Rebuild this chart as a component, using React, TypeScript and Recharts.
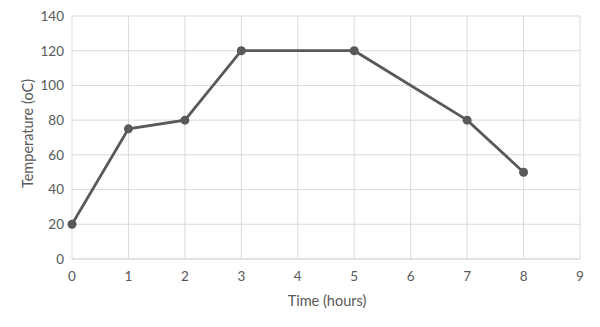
import React from "react";
import { CartesianGrid, Line, LineChart, XAxis, YAxis } from "recharts";

const hours = [0, 1, 2, 3, 5, 7, 8];
const temperature = [20, 75, 80, 120, 120, 80, 50];
const xTicks = [0, 1, 2, 3, 4, 5, 6, 7, 8, 9];
const yTicks = [0, 20, 40, 60, 80, 100, 120, 140];

const data = hours.map((h, i) => ({ hours: h, temp: temperature[i] }));

const FONT = "Lato, 'Open Sans', sans-serif";
const TEXT = "#595959";
const GRID = "#d9d9d9";
const AXIS = { fill: TEXT, fontSize: 13.5, fontFamily: FONT };

function YTitle({ viewBox }: any) {
  const cx = 27;
  const cy = viewBox.y + viewBox.height / 2 - 4;
  return (
    <text
      x={cx}
      y={cy}
      transform={`rotate(-90 ${cx} ${cy})`}
      textAnchor="middle"
      dominantBaseline="central"
      fill={TEXT}
      fontSize={14.5}
      fontFamily={FONT}
    >
      Temperature (oC)
    </text>
  );
}

function XTitle({ viewBox }: any) {
  const cx = viewBox.x + viewBox.width / 2 + 1;
  return (
    <text
      x={cx}
      y={300}
      textAnchor="middle"
      dominantBaseline="central"
      fill={TEXT}
      fontSize={14.5}
      fontFamily={FONT}
    >
      Time (hours)
    </text>
  );
}

export default function App() {
  return (
    <div style={{ width: 600, height: 327, background: "#fff" }}>
      <style>{`body{margin:0}`}</style>
      <LineChart width={600} height={327} data={data} margin={{ top: 16, right: 20, bottom: 20, left: 0 }}>
        <CartesianGrid stroke={GRID} strokeWidth={1} />
        <XAxis
          type="number"
          dataKey="hours"
          domain={[0, 9]}
          ticks={xTicks}
          tick={AXIS}
          tickLine={false}
          axisLine={{ stroke: GRID }}
          tickMargin={6}
          height={48}
          label={<XTitle />}
        />
        <YAxis
          type="number"
          domain={[0, 140]}
          ticks={yTicks}
          tick={AXIS}
          tickLine={false}
          axisLine={false}
          width={72}
          tickMargin={2}
          label={<YTitle />}
        />
        <Line
          type="linear"
          dataKey="temp"
          stroke="#595959"
          strokeWidth={2.75}
          dot={{ r: 4.5, fill: "#595959", stroke: "#595959", strokeWidth: 0 }}
          isAnimationActive={false}
        />
      </LineChart>
    </div>
  );
}
